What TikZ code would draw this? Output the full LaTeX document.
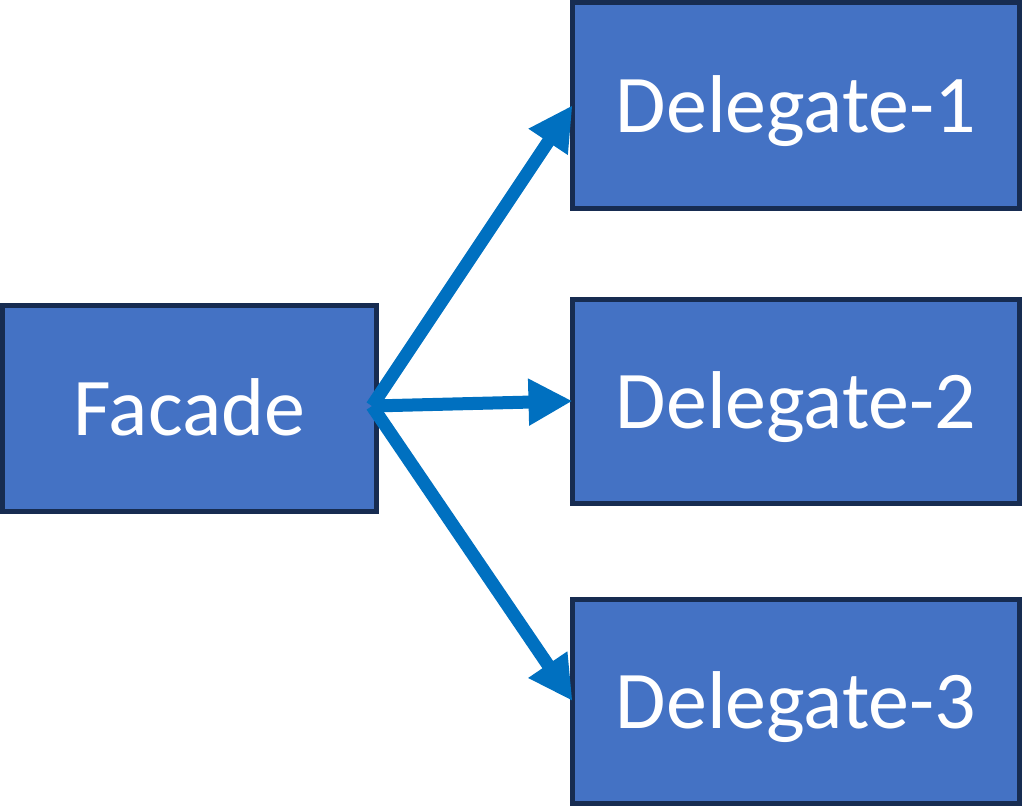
\documentclass[tikz,border=0pt]{standalone}
\usepackage{fontspec}
\setmainfont{Carlito}
\usetikzlibrary{arrows.meta}
\definecolor{boxfill}{HTML}{4472C4}
\definecolor{boxline}{HTML}{172C51}
\definecolor{arrowblue}{HTML}{0070C0}
\tikzset{
  box/.style={draw=boxline, fill=boxfill, line width=5pt, outer sep=0pt, inner sep=0pt,
    text=white, font=\fontsize{82}{98}\selectfont, text height=60pt, text depth=5pt, anchor=center},
  conn/.style={draw=arrowblue, line width=13pt, -{Triangle[length=44pt,width=44pt]}, line join=miter}
}
\begin{document}
\begin{tikzpicture}[x=1pt,y=-1pt]
\useasboundingbox (0,0) rectangle (1027,807);
\node[box, minimum width=373.5pt, minimum height=205.5pt] (facade) at (189.25,408.25) {Facade};
\node[box, minimum width=447pt, minimum height=205.5pt] (d1) at (796,105.25) {Delegate-1};
\node[box, minimum width=447pt, minimum height=204pt] (d2) at (796,401) {Delegate-2};
\node[box, minimum width=447pt, minimum height=204pt] (d3) at (796,701) {Delegate-3};
\coordinate (s) at (372,406);
\draw[conn] (s) -- (d1.west);
\draw[conn] (s) -- (d2.west);
\draw[conn] (s) -- (d3.west);
\end{tikzpicture}
\end{document}
